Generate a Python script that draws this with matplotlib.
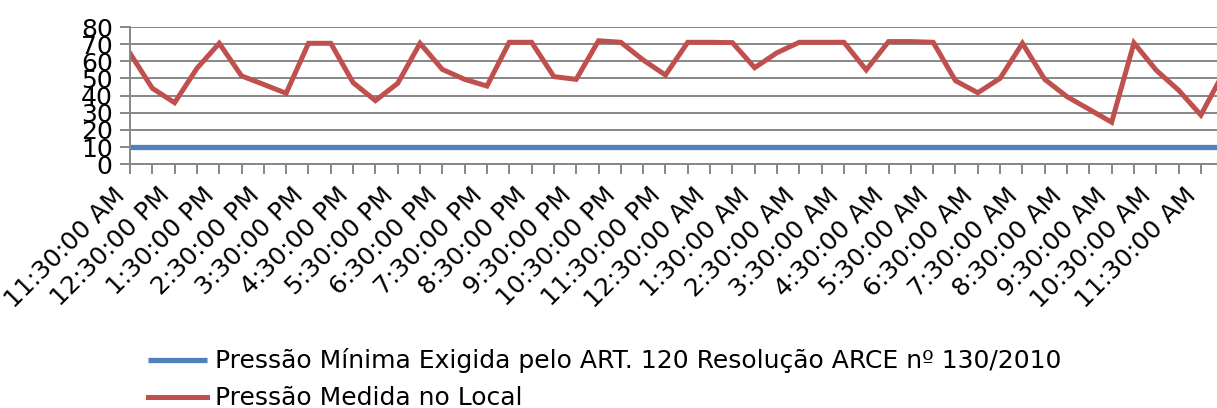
import matplotlib
matplotlib.use("Agg")
import matplotlib.pyplot as plt

# hourly labels (every other half-hour reading)
hour_labels = ["11:30:00 AM", "12:30:00 PM", "1:30:00 PM", "2:30:00 PM", "3:30:00 PM",
               "4:30:00 PM", "5:30:00 PM", "6:30:00 PM", "7:30:00 PM", "8:30:00 PM",
               "9:30:00 PM", "10:30:00 PM", "11:30:00 PM", "12:30:00 AM", "1:30:00 AM",
               "2:30:00 AM", "3:30:00 AM", "4:30:00 AM", "5:30:00 AM", "6:30:00 AM",
               "7:30:00 AM", "8:30:00 AM", "9:30:00 AM", "10:30:00 AM", "11:30:00 AM"]

# pressure measured every 30 min
pressao_medida = [64.7, 44.3, 35.9, 55.9, 70.5, 51.5, 46.5, 41.4, 70.5, 70.5,
                  47.6, 37.1, 47.2, 70.5, 55.3, 49.5, 45.6, 71.1, 71.1, 51.1,
                  49.5, 72.0, 71.1, 60.8, 52.0, 71.1, 71.1, 70.9, 56.3, 65.0,
                  71.1, 71.1, 71.1, 55.0, 71.5, 71.5, 71.1, 48.7, 41.7, 50.1,
                  70.5, 49.5, 39.4, 32.0, 24.5, 70.7, 54.8, 43.2, 28.7, 53.0]
pressao_minima = [10] * len(pressao_medida)

n = len(pressao_medida)
x = list(range(n))
tick_labels = []
for i in range(n):
    tick_labels.append(hour_labels[i // 2] if i % 2 == 0 else "")

grey = "#878787"

fig = plt.figure(figsize=(12.17, 4.08), dpi=100)
# axes run past the right edge of the picture, like the cropped original
ax = fig.add_axes([130 / 1217, 0.5973, (49.5 * 22.31) / 1217, 0.3365])

ax.plot(x, pressao_minima, color="#4F81BD", lw=3.8, solid_capstyle="butt",
        label="Pressão Mínima Exigida pelo ART. 120 Resolução ARCE nº 130/2010")
ax.plot(x, pressao_medida, color="#C0504D", lw=3.6, solid_joinstyle="miter",
        label="Pressão Medida no Local")

ax.set_xlim(0, 49.5)
ax.set_ylim(0, 80)
ax.set_yticks(range(0, 81, 10))
ax.set_xticks(x)
ax.set_xticklabels(tick_labels, rotation=45, ha="right", va="top")
ax.grid(axis="y", color=grey, lw=1.4)
ax.set_axisbelow(True)

for s in ["top", "right"]:
    ax.spines[s].set_visible(False)
for s in ["left", "bottom"]:
    ax.spines[s].set_color(grey)
    ax.spines[s].set_linewidth(1.4)

ax.tick_params(axis="both", colors=grey, labelcolor="black", labelsize=18,
               length=7.5, width=1.4)
ax.tick_params(axis="y", pad=5)
ax.tick_params(axis="x", pad=6)

fig.legend(loc="upper left", bbox_to_anchor=(148 / 1217, 0.146), frameon=False,
           fontsize=18, handlelength=2.36, handletextpad=0.32, labelspacing=0.52,
           borderpad=0, borderaxespad=0)

fig.savefig("out.png", dpi=100)
